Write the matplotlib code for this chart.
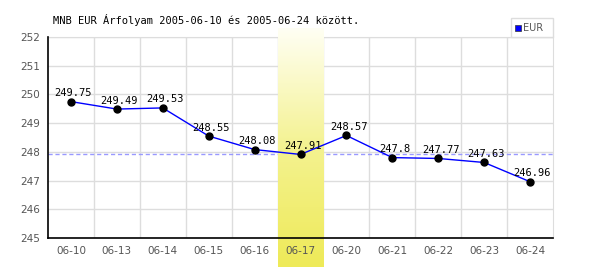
import matplotlib
matplotlib.use("Agg")
import matplotlib.pyplot as plt
import numpy as np
from matplotlib.colors import LinearSegmentedColormap
from matplotlib.patches import Rectangle

dates = ["06-10", "06-13", "06-14", "06-15", "06-16", "06-17", "06-20", "06-21", "06-22", "06-23", "06-24"]
values = [249.75, 249.49, 249.53, 248.55, 248.08, 247.91, 248.57, 247.8, 247.77, 247.63, 246.96]
highlight_idx = 5
ref_value = 247.91
yticks = [245, 246, 247, 248, 249, 250, 251, 252]
title = "MNB EUR Árfolyam 2005-06-10 és 2005-06-24 között."

fig = plt.figure(figsize=(6, 2.7), dpi=100)
ax = fig.add_axes([48/600, 32/270, 505/600, 201/270])
ax.set_axisbelow(False)
x = np.arange(len(dates))
ax.set_xlim(-0.5, len(dates) - 0.5)
ax.set_ylim(245, 252)

# grid
for b in np.arange(0.5, len(dates) - 0.5, 1):
    ax.axvline(b, color="#dddddd", lw=1, zorder=0)
for t in yticks:
    ax.axhline(t, color="#dddddd", lw=1, zorder=0)

# highlight gradient
cmap = LinearSegmentedColormap.from_list("hl", ["#fffff4", "#f4f290", "#eeea58"])
grad = np.linspace(0, 1, 256).reshape(-1, 1)
ax.imshow(grad, aspect="auto", cmap=cmap, origin="upper",
          extent=[highlight_idx - 0.5, highlight_idx + 0.5, 243.98, 252.3],
          zorder=2, clip_on=False)

ax.axhline(ref_value, color="#9999ff", lw=1, ls=(0, (3, 2)), zorder=1)

ax.plot(x, values, color="#0000ff", lw=1, zorder=3)
ax.plot(x, values, "o", color="black", ms=5, zorder=4)
for xi, v in zip(x, values):
    ax.text(xi + 0.05, v + 0.12, f"{v:g}", ha="center", va="bottom",
            fontsize=7.5, family="DejaVu Sans Mono", color="black", zorder=5)

ax.set_xticks(x)
ax.set_xticklabels(dates)
ax.set_yticks(yticks)
ax.tick_params(length=0, labelsize=7.5, colors="#555555", pad=6)
for s in ["top", "right"]:
    ax.spines[s].set_color("#dddddd")
    ax.spines[s].set_zorder(0.5)
for s in ["left", "bottom"]:
    ax.spines[s].set_color("black")
    ax.spines[s].set_linewidth(1.2)
    ax.spines[s].set_zorder(6)

fig.text(53/600, 1 - 20/270, title, fontsize=7.5, family="DejaVu Sans Mono",
         ha="left", va="center", color="black")

# legend box
fig.patches.append(Rectangle((511/600, 1 - 37/270), 42/600, 19/270, transform=fig.transFigure,
                             facecolor="white", edgecolor="#dddddd", lw=1))
fig.patches.append(Rectangle((515/600, 1 - 31/270), 6/600, 6/270, transform=fig.transFigure,
                             facecolor="#0000ff", edgecolor="#333333", lw=0.5))
fig.text(523/600, 1 - 28/270, "EUR", fontsize=7, color="#555555", ha="left", va="center")

fig.savefig("out.png", dpi=100)
